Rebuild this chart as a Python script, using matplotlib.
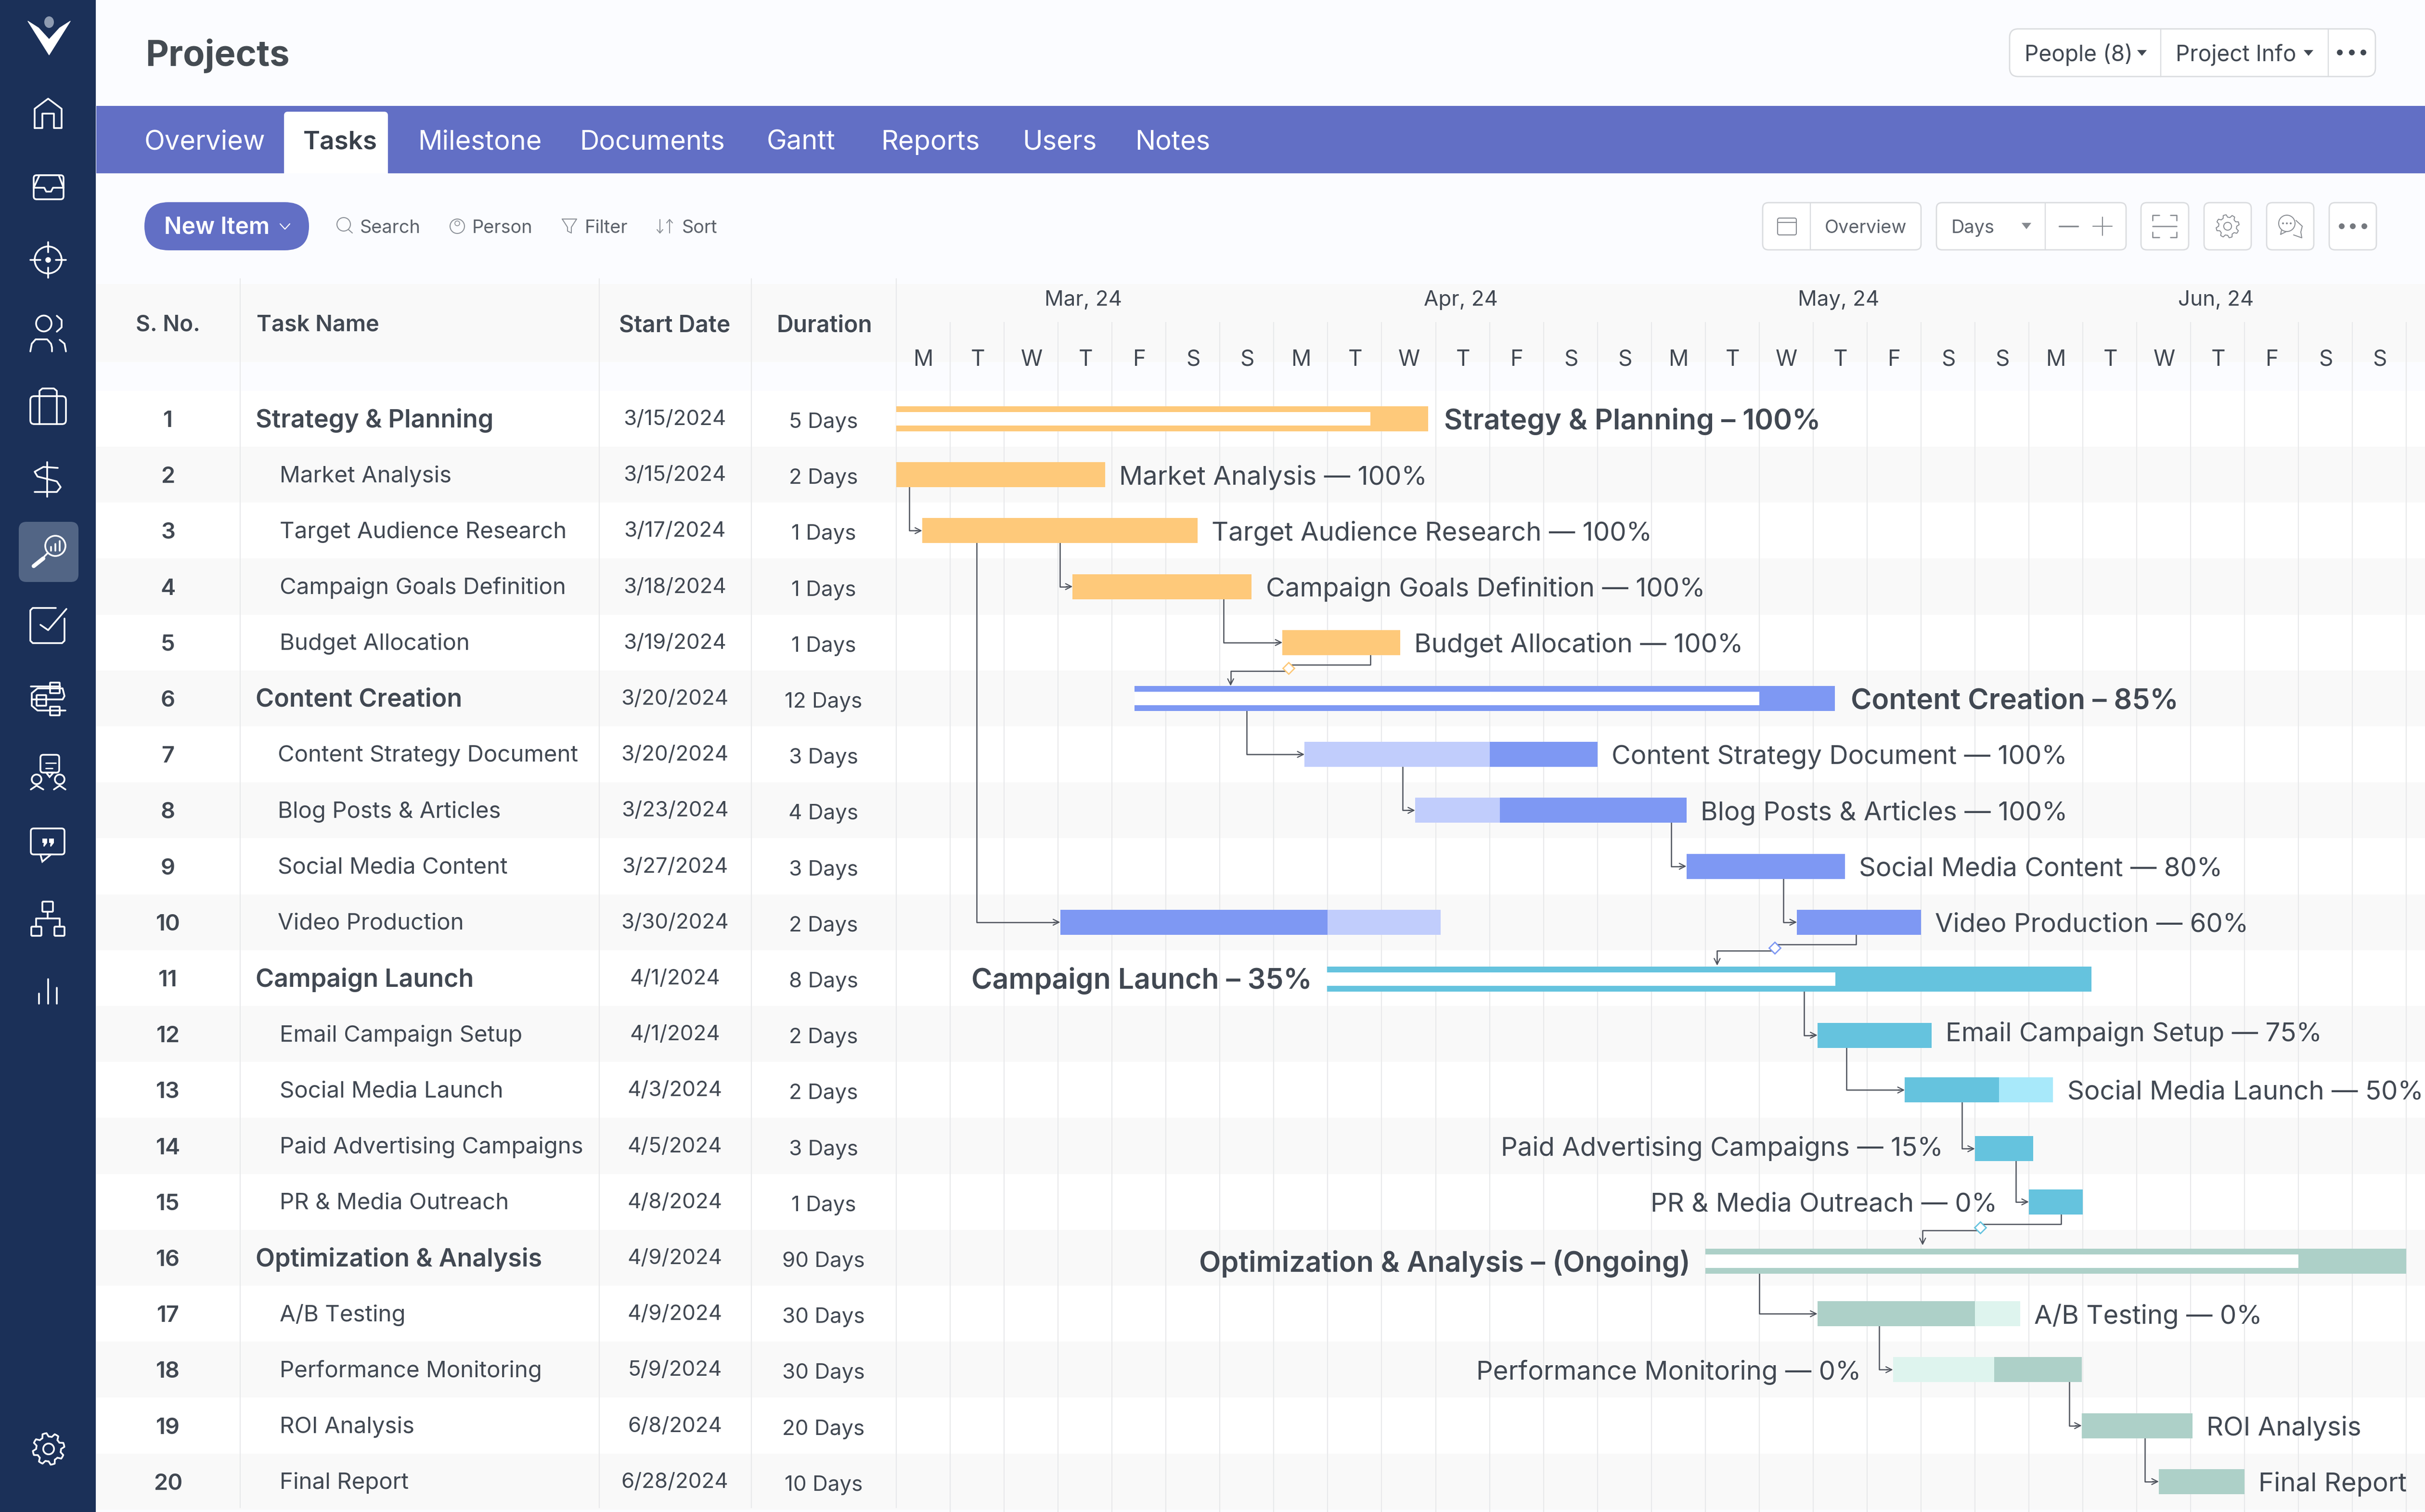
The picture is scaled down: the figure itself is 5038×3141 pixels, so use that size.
import numpy as np
import matplotlib
matplotlib.use("Agg")
from matplotlib import pyplot as plt
from matplotlib.patches import FancyBboxPatch, Polygon, Circle, Ellipse, Rectangle

# table data
row_no = list(range(1, 21))
task_names = ["Strategy & Planning", "Market Analysis", "Target Audience Research", "Campaign Goals Definition",
              "Budget Allocation", "Content Creation", "Content Strategy Document", "Blog Posts & Articles",
              "Social Media Content", "Video Production", "Campaign Launch", "Email Campaign Setup",
              "Social Media Launch", "Paid Advertising Campaigns", "PR & Media Outreach", "Optimization & Analysis",
              "A/B Testing", "Performance Monitoring", "ROI Analysis", "Final Report"]
start_dates = ["3/15/2024", "3/15/2024", "3/17/2024", "3/18/2024", "3/19/2024", "3/20/2024", "3/20/2024", "3/23/2024",
               "3/27/2024", "3/30/2024", "4/1/2024", "4/1/2024", "4/3/2024", "4/5/2024", "4/8/2024", "4/9/2024",
               "4/9/2024", "5/9/2024", "6/8/2024", "6/28/2024"]
durations = [5, 2, 1, 1, 1, 12, 3, 4, 3, 2, 8, 2, 2, 3, 1, 90, 30, 30, 20, 10]
group_rows = [1, 6, 11, 16]
bar_labels = ["Strategy & Planning – 100%", "Market Analysis — 100%", "Target Audience Research — 100%",
              "Campaign Goals Definition — 100%", "Budget Allocation — 100%", "Content Creation – 85%",
              "Content Strategy Document — 100%", "Blog Posts & Articles — 100%", "Social Media Content — 80%",
              "Video Production — 60%", "Campaign Launch – 35%", "Email Campaign Setup — 75%",
              "Social Media Launch — 50%", "Paid Advertising Campaigns — 15%", "PR & Media Outreach — 0%",
              "Optimization & Analysis – (Ongoing)", "A/B Testing — 0%", "Performance Monitoring — 0%",
              "ROI Analysis", "Final Report"]
left_labels = [11, 14, 15, 16, 18]

# timeline header
months = ["Mar, 24", "Apr, 24", "May, 24", "Jun, 24"]
month_col = [3, 10, 17, 24]
day_letters = ["M", "T", "W", "T", "F", "S", "S"] * 4

# gantt, positions in day columns
group_start = [0.0, 4.42, 7.99, 15.0]
group_inner = [8.79, 16.0, 17.41, 26.0]
group_end = [9.86, 17.4, 22.16, 28.0]
group_tone = ["orange", "blue", "cyan", "green"]

seg_row = [2, 3, 4, 5, 7, 7, 8, 8, 9, 10, 10, 10, 12, 13, 13, 14, 15, 17, 17, 18, 18, 19, 20]
seg_start = [0.0, 0.48, 3.27, 7.16, 7.57, 11.0, 9.62, 11.19, 14.65, 3.04, 8.0, 16.7, 17.08, 18.7, 20.45,
             20.0, 21.0, 17.08, 20.0, 18.48, 20.36, 21.98, 23.41]
seg_end = [3.87, 5.59, 6.59, 9.34, 11.0, 13.0, 11.19, 14.65, 17.59, 8.0, 10.09, 19.0, 19.2, 20.45, 21.45,
           21.08, 22.0, 20.0, 20.84, 20.36, 21.98, 24.03, 25.0]
seg_tone = ["orange", "orange", "orange", "orange", "blue_l", "blue", "blue_l", "blue", "blue", "blue", "blue_l",
            "blue", "cyan", "cyan", "cyan_l", "cyan", "cyan", "green", "green_l", "green_l", "green", "green", "green"]

# elbows: column of the vertical part, row it leaves, row it reaches, column it ends at
link_col = [0.24, 1.49, 3.03, 6.07, 6.5, 9.39, 14.37, 16.45, 16.83, 17.62, 19.76, 20.76, 16.0, 18.22, 21.75, 23.15]
link_from = [2, 3, 3, 4, 6, 7, 8, 9, 11, 12, 13, 14, 16, 17, 18, 19]
link_to = [3, 10, 4, 5, 7, 8, 9, 10, 12, 13, 14, 15, 17, 18, 19, 20]
link_end = [0.48, 3.04, 3.27, 7.16, 7.57, 9.62, 14.65, 16.7, 17.08, 18.7, 20.0, 21.0, 17.08, 18.48, 21.98, 23.41]

# milestone links between groups
ms_row = [5, 10, 15]
ms_leave = [8.79, 17.8, 21.6]
ms_col = [7.27, 16.29, 20.1]
ms_drop = [6.2, 15.22, 19.03]
ms_color = ["#FDC878", "#7E98F3", "#65C3DE"]

tones = {"orange": "#FEC97A", "blue": "#7E98F3", "blue_l": "#C1CDFC", "cyan": "#65C3DE", "cyan_l": "#A8E9FA",
         "green": "#ADD0C8", "green_l": "#DEF4EE"}

W, H = 5038, 3141
DARK = "#414852"
GREY = "#5C626B"
NAVY = "#1B3058"
LINE = "#E8E9EB"
EDGE = "#DADCDF"
WHITE = "#FFFFFF"
ICON = "#85898F"
PITCH = 116.2
plt.rcParams["font.family"] = ["Inter", "DejaVu Sans"]


def fs(px):
    return px * 0.72


def row_y(r):
    return 870 + (r - 1) * PITCH


fig = plt.figure(figsize=(W / 100, H / 100), dpi=100, facecolor="#FBFCFF")
ui = fig.add_axes([0, 0, 1, 1])
ui.set_xlim(0, W)
ui.set_ylim(H, 0)
ui.axis("off")


def rbox(x0, y0, x1, y1, r, fc, ec="none", lw=0, z=2):
    p = FancyBboxPatch((x0 + r, y0 + r), x1 - x0 - 2 * r, y1 - y0 - 2 * r,
                       boxstyle="round,pad=%f,rounding_size=%f" % (r, r), fc=fc, ec=ec, lw=lw, zorder=z)
    ui.add_patch(p)


def rect(x0, y0, x1, y1, fc, z=1):
    ui.add_patch(Rectangle((x0, y0), x1 - x0, y1 - y0, fc=fc, ec="none", zorder=z))


def line(xs, ys, c=WHITE, lw=2.6, z=4):
    ui.plot(xs, ys, color=c, lw=lw, zorder=z, solid_capstyle="round", solid_joinstyle="round")


def ring(x, y, r, ec=WHITE, lw=2.6, fc="none", z=4):
    ui.add_patch(Circle((x, y), r, fc=fc, ec=ec, lw=lw, zorder=z))


def label(x, y, s, px, c=DARK, w="normal", ha="left", z=5):
    ui.text(x, y, s, fontsize=fs(px), color=c, fontweight=w, ha=ha, va="center_baseline", zorder=z)


def gear(x, y, R, c, lw=2.6, z=4):
    ang = np.linspace(0, 2 * np.pi, 8 * 6, endpoint=False) + np.pi / 8
    rad = np.where(np.arange(48) % 6 < 3, R, R * 0.78)
    ui.add_patch(Polygon(np.c_[x + rad * np.cos(ang), y + rad * np.sin(ang)], closed=True, fc="none", ec=c, lw=lw,
                         zorder=z, joinstyle="round"))
    ring(x, y, R * 0.34, ec=c, lw=lw, z=z)


# page chrome
rect(200, 220, W, 360, "#626FC5")
rbox(590, 232, 806, 372, 8, WHITE, z=2)
rect(590, 300, 806, 360, WHITE, z=2)
rect(590, 360, 806, 375, "#FBFCFF", z=2)
rect(200, 590, W, 752, "#F9F9F9")
rect(200, 812, W, 3136, WHITE)
for r in range(2, 21, 2):
    rect(200, 928 + (r - 2) * PITCH, W, 928 + (r - 2) * PITCH + PITCH, "#F9F9F9", z=1.2)
for x in [499, 1245, 1561, 1862]:
    line([x, x], [579, 3132], LINE, 1.6, z=1.5)

# sidebar
rect(0, 0, 199, H, NAVY, z=3)
ui.add_patch(Polygon([(58, 44), (80, 58), (102, 82), (124, 58), (146, 44), (102, 114)], closed=True, fc=WHITE, ec=WHITE,
                     lw=1, zorder=4, joinstyle="round"))
ui.add_patch(Ellipse((102, 46), 20, 24, fc="#8E9BB1", ec="none", zorder=5))
# home
line([72, 72, 100, 128, 128, 112, 112, 88, 88, 72], [266, 226, 205, 226, 266, 266, 236, 236, 266, 266])
# inbox
rbox(70, 364, 132, 414, 6, "none", WHITE, 2.6, z=4)
line([70, 82, 122, 132], [390, 364, 364, 390])
line([70, 92, 96, 106, 110, 132], [390, 390, 398, 398, 390, 390])
# target
ring(100, 540, 28)
ring(100, 540, 4, fc=WHITE)
line([100, 100], [503, 524])
line([100, 100], [556, 577])
line([63, 84], [540, 540])
line([116, 137], [540, 540])
# people
ui.add_patch(Ellipse((91, 672), 32, 33, fc="none", ec=WHITE, lw=2.6, zorder=4))
line([118, 128, 128, 118], [656, 665, 680, 689])
line([63, 66, 74, 98, 106, 108, 108], [730, 714, 705, 705, 714, 722, 730])
line([124, 134, 137], [706, 714, 730])
# briefcase
rbox(63, 823, 137, 881, 8, "none", WHITE, 2.6, z=4)
line([82, 82, 88, 112, 118, 118], [823, 812, 807, 807, 812, 823])
line([82, 82], [823, 881])
line([118, 118], [823, 881])
# dollar
line([98, 98], [960, 1032])
line([120, 90, 72, 78, 118, 126, 118, 72], [972, 970, 980, 990, 1000, 1012, 1022, 1022])
# active search icon
rbox(39, 1084, 163, 1209, 16, "#526585", z=3.5)
ring(115, 1134, 21)
line([99, 92], [1149, 1156])
line([90, 70], [1160, 1176], lw=6)
for bx, btop in zip([106, 115, 124], [1136, 1130, 1124]):
    line([bx, bx], [btop, 1144], lw=2.6)
# check
line([116, 68, 63, 63, 68, 129, 134, 134], [1263, 1263, 1268, 1331, 1336, 1336, 1331, 1285])
line([84, 100, 138], [1298, 1309, 1265])
# flow
line([64, 125], [1426, 1426])
rbox(104, 1418, 124, 1440, 1, "none", WHITE, 2.6, z=4)
rbox(76, 1444, 96, 1466, 1, "none", WHITE, 2.6, z=4)
rbox(104, 1468, 124, 1486, 1, "none", WHITE, 2.6, z=4)
line([66, 130, 134, 130, 78, 66, 66, 78, 136], [1453, 1453, 1446, 1430, 1430, 1440, 1466, 1476, 1476])
# chat people
rbox(84, 1568, 123, 1605, 6, "none", WHITE, 2.6, z=4)
ui.add_patch(Polygon([(96, 1605), (103, 1614), (111, 1605)], closed=True, fc=NAVY, ec=WHITE, lw=2.6, zorder=4))
line([95, 116], [1585, 1585], lw=2)
line([95, 109], [1596, 1596], lw=2)
ring(76, 1619, 10)
ring(124, 1619, 10)
line([64, 76, 90], [1640, 1632, 1640])
line([112, 124, 136], [1640, 1632, 1640])
# quote
rbox(64, 1721, 134, 1775, 6, "none", WHITE, 2.6, z=4)
ui.add_patch(Polygon([(84, 1775), (88, 1790), (106, 1775)], closed=True, fc=NAVY, ec=WHITE, lw=2.6, zorder=4))
for qx in [88, 102]:
    ui.add_patch(Polygon([(qx, 1742), (qx + 10, 1742), (qx + 10, 1751), (qx + 4, 1759), (qx + 2, 1758), (qx + 3, 1751),
                          (qx, 1751)], closed=True, fc=WHITE, ec="none", zorder=5))
# org chart
rbox(88, 1873, 110, 1894, 2, "none", WHITE, 2.6, z=4)
rbox(65, 1925, 86, 1944, 2, "none", WHITE, 2.6, z=4)
rbox(113, 1925, 134, 1944, 2, "none", WHITE, 2.6, z=4)
line([99, 99], [1894, 1908])
line([75, 75, 124, 124], [1925, 1908, 1908, 1925])
# bars
for bx, btop in zip([81, 100, 118], [2064, 2034, 2052]):
    line([bx, bx], [btop, 2085])
gear(101, 3010, 33, WHITE)

# header area
label(302, 109, "Projects", 74, "#444B52", "bold")
tab_names = ["Overview", "Milestone", "Documents", "Gantt", "Reports", "Users", "Notes"]
tab_left = [300, 868, 1204, 1593, 1830, 2124, 2358]
for x, s in zip(tab_left, tab_names):
    label(x, 290, s, 56, WHITE)
label(630, 290, "Tasks", 53, "#39404A", "semibold")

rbox(300, 420, 642, 520, 50, "#626FC5")
label(341, 468, "New Item", 48, WHITE, "semibold")
line([582, 592, 602], [465, 476, 465], WHITE, 1.6)
for x, s in zip([748, 981, 1215, 1417], ["Search", "Person", "Filter", "Sort"]):
    label(x, 470, s, 38, GREY)
ring(714, 466, 14, "#8B9098", 1.5)
line([724, 732], [477, 484], "#8B9098", 1.5)
ring(950, 470, 15, "#8B9098", 1.5)
ring(950, 464, 5, "#8B9098", 1.2)
line([1168, 1198, 1187, 1187, 1179, 1179, 1168], [455, 455, 472, 484, 480, 472, 455], "#8B9098", 1.5)
line([1371, 1371], [456, 484], "#8B9098", 1.5)
line([1365, 1371, 1377], [477, 484, 477], "#8B9098", 1.5)
line([1391, 1391], [456, 484], "#8B9098", 1.5)
line([1385, 1391, 1397], [463, 456, 463], "#8B9098", 1.5)

# top right group
rbox(4175, 60, 4935, 159, 18, WHITE, EDGE, 2)
line([4489, 4489], [60, 159], EDGE, 1.6)
line([4837, 4837], [60, 159], EDGE, 1.6)
label(4206, 109, "People (8)", 46, DARK)
label(4520, 109, "Project Info", 46, DARK)
for x in [4450, 4796]:
    ui.add_patch(Polygon([(x - 10, 104), (x + 10, 104), (x, 116)], closed=True, fc=DARK, ec="none", zorder=5))
for x in [4861, 4886, 4910]:
    ui.add_patch(Circle((x, 109), 6, fc=DARK, ec="none", zorder=5))

# toolbar right
for x0, x1 in [(3662, 3991), (4023, 4417), (4448, 4547), (4579, 4677), (4709, 4807), (4839, 4937)]:
    rbox(x0, 421, x1, 519, 12, WHITE, EDGE, 2)
line([3761, 3761], [421, 519], EDGE, 1.6)
line([4249, 4249], [421, 519], EDGE, 1.6)
label(3791, 470, "Overview", 38, GREY)
label(4054, 470, "Days", 38, GREY)
ui.add_patch(Polygon([(4200, 463), (4220, 463), (4210, 476)], closed=True, fc=ICON, ec="none", zorder=5))
rbox(3693, 453, 3732, 488, 4, "none", ICON, 1.5, z=5)
line([3693, 3732], [462, 462], ICON, 1.5, z=6)
line([4278, 4317], [470, 470], ICON, 2.4, z=6)
line([4348, 4388], [470, 470], ICON, 1.5, z=6)
line([4368, 4368], [451, 489], ICON, 1.5, z=6)
line([4472, 4472, 4486], [458, 447, 447], ICON, 1.8, z=6)
line([4509, 4522, 4522], [447, 447, 458], ICON, 1.8, z=6)
line([4472, 4522], [470, 470], ICON, 1.8, z=6)
line([4472, 4472, 4486], [482, 493, 493], ICON, 1.8, z=6)
line([4509, 4522, 4522], [493, 493, 482], ICON, 1.8, z=6)
gear(4628, 470, 24, ICON, 1.4, z=6)
ring(4751, 464, 17, ICON, 1.4, z=6)
line([4740, 4738, 4750], [478, 487, 481], ICON, 1.4, z=6)
line([4770, 4783, 4780, 4782, 4765], [458, 470, 482, 494, 488], ICON, 1.4, z=6)
for dx in [4743, 4751, 4759]:
    ui.add_patch(Circle((dx, 464), 2, fc=ICON, ec="none", zorder=6))
for x in [4865, 4888, 4912]:
    ui.add_patch(Circle((x, 470), 6, fc="#75797F", ec="none", zorder=6))

# table text
label(349, 671, "S. No.", 46, DARK, "semibold", "center")
label(533, 671, "Task Name", 47, DARK, "semibold")
label(1402, 671, "Start Date", 48, DARK, "semibold", "center")
label(1713, 671, "Duration", 48, DARK, "semibold", "center")
for r, name, d, n in zip(row_no, task_names, start_dates, durations):
    y = row_y(r)
    group = r in group_rows
    label(349, y, str(r), 47, DARK, "semibold", "center")
    tx = 531 if group else (577 if r in (7, 8, 9, 10) else 581)
    label(tx, y - 2, name, 52 if group else 47.5, DARK, "semibold" if group else "normal")
    label(1402, y - 3, d, 44, DARK, "normal", "center")
    label(1711, y + 3, "%d Days" % n, 44, DARK, "normal", "center")

# gantt axes, day columns by rows
gantt = fig.add_axes([1862 / W, 0, (W - 1862) / W, (H - 669) / H])
gantt.set_xlim(0, (W - 1862) / 112.05)
gantt.set_ylim(1 + (H - 870) / PITCH, 1 + (669 - 870) / PITCH)
gantt.patch.set_alpha(0)
for s in gantt.spines.values():
    s.set_visible(False)
gantt.set_xticks(range(1, 29))
gantt.set_yticks([])
gantt.tick_params(length=0, labelbottom=False)
gantt.grid(axis="x", color=LINE, lw=1.6, zorder=0)
gantt.set_axisbelow(True)

BAR_H = 52 / PITCH
bar_nudge = {11: 0.02, 12: 0.02, 14: 0.05, 16: 0.06}
label_nudge = {12: -0.05, 16: 0.05}


def bar_y(r):
    return r + bar_nudge.get(r, 0)


for x, s in zip(month_col, months):
    gantt.text(x + 0.47, 1 + (619 - 870) / PITCH, s, fontsize=fs(44), color=DARK, ha="center", va="center_baseline",
               clip_on=False)
for i, s in enumerate(day_letters):
    gantt.text(i + 0.51, 1 + (743 - 870) / PITCH, s, fontsize=fs(46), color=DARK, ha="center", va="center_baseline")

# task bars
gantt.barh([bar_y(r) for r in seg_row], np.array(seg_end) - np.array(seg_start), left=seg_start, height=BAR_H,
           color=[tones[t] for t in seg_tone], zorder=3)
# summary bars with hollow part
gantt.barh([bar_y(r) for r in group_rows], np.array(group_end) - np.array(group_start), left=group_start, height=BAR_H,
           color=[tones[t] for t in group_tone], zorder=3)
gantt.barh([bar_y(r) for r in group_rows], np.array(group_inner) - np.array(group_start), left=group_start,
           height=28 / PITCH, color=WHITE, zorder=3.5)

# dependency lines
LINK = "#4C515B"
arrow = dict(arrowstyle="->", color=LINK, lw=1.6, mutation_scale=22, shrinkA=0, shrinkB=0)
for c, a, b, e in zip(link_col, link_from, link_to, link_end):
    gantt.plot([c, c, e - 0.1], [bar_y(a) + BAR_H / 2, bar_y(b), bar_y(b)], color=LINK, lw=1.8, zorder=2.5)
    gantt.annotate("", xy=(e, bar_y(b)), xytext=(e - 0.12, bar_y(b)), arrowprops=arrow, zorder=2.6)
for r, a, c, d, col in zip(ms_row, ms_leave, ms_col, ms_drop, ms_color):
    gantt.plot([a, a, c], [r + BAR_H / 2, r + 0.4, r + 0.4], color=LINK, lw=1.8, zorder=2.5)
    gantt.plot([c, d, d], [r + 0.51, r + 0.51, r + 0.72], color=LINK, lw=1.8, zorder=2.5)
    gantt.annotate("", xy=(d, r + 0.775), xytext=(d, r + 0.7), arrowprops=arrow, zorder=2.6)
    gantt.plot([c], [r + 0.46], marker="D", ms=12, mfc=WHITE, mec=col, mew=2, zorder=3)

# bar labels follow the bars
seg_row_a = np.array(seg_row)
for i, s in enumerate(bar_labels):
    r = i + 1
    group = r in group_rows
    if group:
        g = group_rows.index(r)
        lo, hi = group_start[g], group_end[g]
    else:
        lo = min(np.array(seg_start)[seg_row_a == r])
        hi = max(np.array(seg_end)[seg_row_a == r])
    if r in left_labels:
        x, ha = lo - (0.28 if group else 0.59), "right"
    else:
        x, ha = hi + (0.3 if group else 0.26), "left"
    gantt.text(x, r + label_nudge.get(r, 0), s, fontsize=fs(59 if group else 54.5), color=DARK,
               fontweight="semibold" if group else "normal", ha=ha, va="center_baseline", zorder=5, clip_on=False)

fig.savefig("out.png", dpi=100, facecolor=fig.get_facecolor())
